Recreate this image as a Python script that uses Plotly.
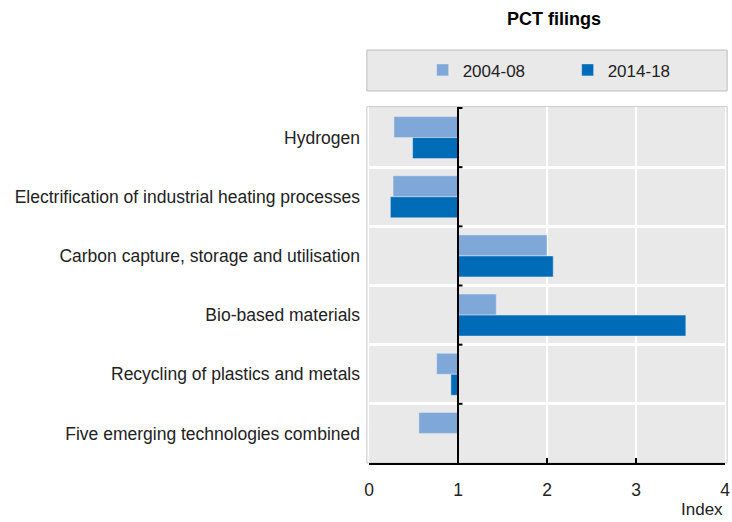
import plotly.graph_objects as go

categories = [
    "Hydrogen",
    "Electrification of industrial heating processes",
    "Carbon capture, storage and utilisation",
    "Bio-based materials",
    "Recycling of plastics and metals",
    "Five emerging technologies combined",
]
vals_2004_08 = [0.28, 0.27, 2.0, 1.43, 0.76, 0.56]
vals_2014_18 = [0.49, 0.24, 2.07, 3.56, 0.92, 1.0]
x_ticks = [0, 1, 2, 3, 4]

BASE = 1
FONT = "Liberation Sans, Arial"

fig = go.Figure()
fig.add_trace(go.Bar(
    y=categories, x=[v - BASE for v in vals_2004_08], base=BASE,
    orientation="h", name="2004-08", marker_color="#7FA8D9",
))
fig.add_trace(go.Bar(
    y=categories, x=[v - BASE for v in vals_2014_18], base=BASE,
    orientation="h", name="2014-18", marker_color="#006BB6",
))

# vertical reference line at 1 with ticks on category boundaries
shapes = [dict(type="line", xref="x", yref="paper", x0=BASE, x1=BASE, y0=0, y1=1,
               line=dict(color="black", width=2))]
for i in range(len(categories)):
    shapes.append(dict(type="line", xref="x", yref="y", x0=BASE, x1=BASE + 0.05,
                       y0=i - 0.5, y1=i - 0.5, line=dict(color="black", width=2)))
# thin border around plot area
shapes.append(dict(type="rect", xref="paper", yref="paper", x0=-0.006, x1=1.006, y0=0, y1=1.001,
                   line=dict(color="#c8c8c8", width=1), layer="below"))
# legend box
shapes.append(dict(type="rect", xref="paper", yref="paper", x0=-0.006, x1=1.006, y0=1.045, y1=1.16,
                   fillcolor="#e9e9e9", line=dict(color="#bdbdbd", width=1), layer="below"))

fig.update_layout(
    width=732, height=522,
    margin=dict(l=369, r=7, t=107, b=59),
    paper_bgcolor="white",
    plot_bgcolor="#e9e9e9",
    barmode="group",
    bargap=0.29,
    bargroupgap=0,
    font=dict(family=FONT, size=17.5, color="#222222"),
    title=dict(text="<b>PCT filings</b>", x=0.52, xref="paper", xanchor="center",
               y=0.965, yanchor="middle", font=dict(size=18, color="black")),
    legend=dict(orientation="h", x=0.558, xanchor="center", y=1.103, yanchor="middle",
                bgcolor="rgba(0,0,0,0)", entrywidth=100, traceorder="normal",
                font=dict(size=17, color="#222222")),
    shapes=shapes,
    annotations=[dict(text="Index", xref="paper", yref="paper", x=1.0, y=-0.132,
                      xanchor="right", yanchor="middle", showarrow=False,
                      font=dict(size=17, color="#222222"))],
)
fig.update_xaxes(
    range=[0, 4], tickvals=x_ticks, showline=True, linecolor="black", linewidth=2,
    ticks="inside", ticklen=5, tickwidth=2, tickcolor="black",
    showgrid=True, gridcolor="white", gridwidth=2, zeroline=False,
    ticklabelstandoff=10, automargin=False,
)
fig.update_yaxes(
    autorange="reversed", tickson="boundaries", showgrid=True, gridcolor="white",
    gridwidth=3, ticks="", showline=False, ticklabelstandoff=8, automargin=False,
)

# drop the default page margin so the figure fills the window
fig.write_html("out.html", config={"displayModeBar": False},
               post_script="document.body.style.margin='0px';")
